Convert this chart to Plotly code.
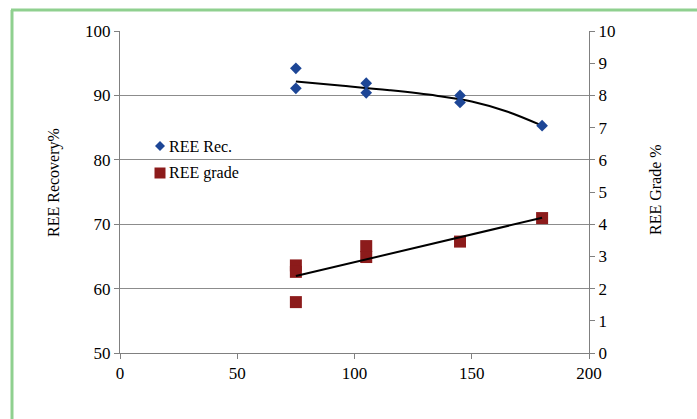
import plotly.graph_objects as go

# ---- data ----
rec_x = [75, 75, 105, 105, 145, 145, 180]
rec_y = [94.2, 91.1, 91.9, 90.4, 90.0, 88.9, 85.3]

grade_x = [75, 75, 75, 105, 105, 145, 180]
grade_y = [2.72, 2.52, 1.58, 3.32, 2.98, 3.46, 4.19]

rec_trend_x = [75, 95, 115, 135, 150, 165, 180]
rec_trend_y = [92.15, 91.5, 90.8, 89.95, 89.05, 87.5, 85.3]

grade_trend_x = [75, 180]
grade_trend_y = [2.39, 4.2]

x_ticks = [0, 50, 100, 150, 200]
left_ticks = [50, 60, 70, 80, 90, 100]
right_ticks = list(range(0, 11))

BLUE = "#1d4696"
RED = "#8c1b1b"
FONT = "Liberation Serif"

W, H = 697, 419
L, R, T, B = 120, 108, 31, 66
PW, PH = W - L - R, H - T - B


def px(x):
    return (x - L) / PW


def py(y):
    return (H - B - y) / PH


fig = go.Figure()

fig.add_trace(go.Scatter(x=rec_trend_x, y=rec_trend_y, mode="lines",
                         line=dict(color="black", width=2, shape="spline", smoothing=1.0),
                         showlegend=False, hoverinfo="skip"))
fig.add_trace(go.Scatter(x=rec_x, y=rec_y, mode="markers", name="REE Rec.",
                         marker=dict(symbol="diamond", size=9, color=BLUE),
                         showlegend=False))
fig.add_trace(go.Scatter(x=grade_x, y=grade_y, mode="markers", name="REE grade",
                         yaxis="y2",
                         marker=dict(symbol="square", size=12, color=RED),
                         showlegend=False))
fig.add_trace(go.Scatter(x=grade_trend_x, y=grade_trend_y, mode="lines", yaxis="y2",
                         line=dict(color="black", width=2),
                         showlegend=False, hoverinfo="skip"))

shapes = []
# green frame (top and left edges)
shapes.append(dict(type="line", xref="paper", yref="paper",
                   x0=px(11), x1=px(700), y0=py(10), y1=py(10),
                   line=dict(color="#8fd08f", width=3)))
shapes.append(dict(type="line", xref="paper", yref="paper",
                   x0=px(12), x1=px(12), y0=py(10), y1=py(425),
                   line=dict(color="#8fd08f", width=3)))
# legend symbols
shapes.append(dict(type="path", xref="paper", yref="paper",
                   xsizemode="pixel", ysizemode="pixel",
                   xanchor=px(160), yanchor=py(146),
                   path="M -5 0 L 0 5 L 5 0 L 0 -5 Z",
                   fillcolor=BLUE, line=dict(width=0)))
shapes.append(dict(type="rect", xref="paper", yref="paper",
                   xsizemode="pixel", ysizemode="pixel",
                   xanchor=px(160), yanchor=py(173),
                   x0=-5.5, x1=5.5, y0=-5.5, y1=5.5,
                   fillcolor=RED, line=dict(width=0)))

annotations = [
    dict(text="REE Rec.", xref="paper", yref="paper", x=px(167), y=py(146),
         xanchor="left", yanchor="middle", showarrow=False,
         font=dict(family=FONT, size=16, color="black")),
    dict(text="REE grade", xref="paper", yref="paper", x=px(167), y=py(173),
         xanchor="left", yanchor="middle", showarrow=False,
         font=dict(family=FONT, size=16, color="black")),
    dict(text="REE Recovery%", xref="paper", yref="paper", x=px(54), y=py(183),
         xanchor="center", yanchor="middle", textangle=-90, showarrow=False,
         font=dict(family=FONT, size=16, color="black")),
    dict(text="REE Grade %", xref="paper", yref="paper", x=px(655), y=py(190),
         xanchor="center", yanchor="middle", textangle=-90, showarrow=False,
         font=dict(family=FONT, size=16, color="black")),
]

axis_common = dict(showline=True, linecolor="#808080", linewidth=1,
                   ticks="outside", ticklen=5, tickcolor="#808080",
                   tickfont=dict(family=FONT, size=17, color="black"),
                   zeroline=False)

fig.update_layout(
    width=W, height=H,
    margin=dict(l=L, r=R, t=T, b=B),
    paper_bgcolor="white", plot_bgcolor="white",
    font=dict(family=FONT, size=16, color="black"),
    showlegend=False,
    xaxis=dict(range=[0, 200], tickvals=x_ticks, showgrid=False, **axis_common),
    yaxis=dict(range=[50, 100], tickvals=left_ticks, showgrid=True,
               gridcolor="#8c8c8c", gridwidth=1, **axis_common),
    yaxis2=dict(range=[0, 10], tickvals=right_ticks, overlaying="y", side="right",
                showgrid=False, **axis_common),
    shapes=shapes,
    annotations=annotations,
)

fig.write_html("out.html")
